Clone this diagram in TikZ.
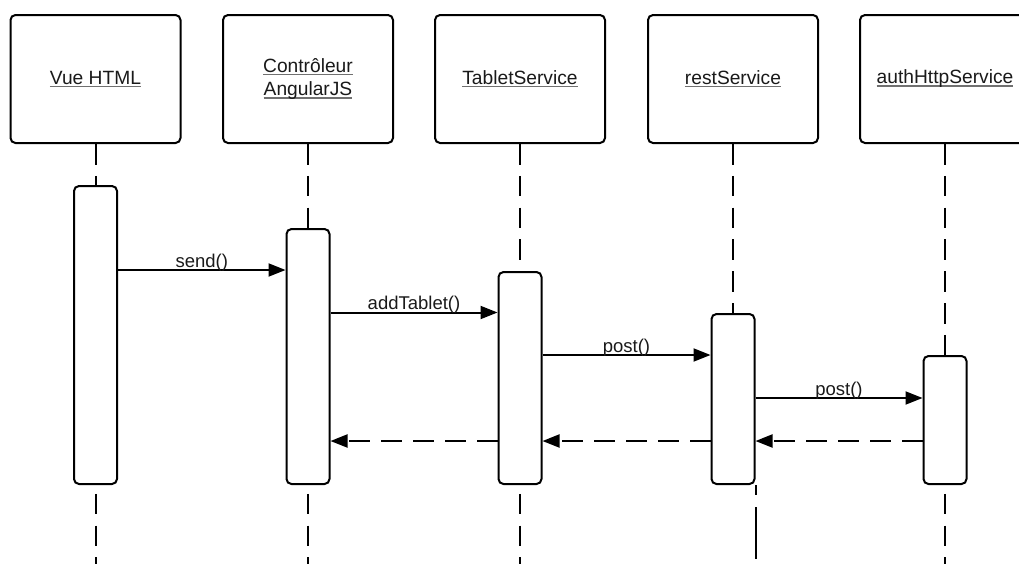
\documentclass[tikz,border=0pt]{standalone}
\usepackage{fontspec}
\setmainfont{Liberation Sans}
\usetikzlibrary{arrows.meta}
\pgfdeclarelayer{background}
\pgfsetlayers{background,main}
\definecolor{ulgray}{HTML}{707070}
\definecolor{txt}{HTML}{1A1A1A}
\newcommand\myul[1]{\setbox0\hbox{#1}\rlap{\color{ulgray}\rule[-2.8pt]{\wd0}{1.5pt}}\box0}
\begin{document}
\begin{tikzpicture}[x=1pt,y=-1pt,
  every node/.style={font=\fontsize{18.5}{23.5}\selectfont, text=txt},
  head/.style={draw, line width=2pt, rounded corners=5pt, minimum width=170pt, minimum height=128pt, align=center, inner sep=0pt, fill=white, font=\fontsize{19.2}{23.5}\selectfont},
  act/.style={draw, line width=2pt, rounded corners=5pt, minimum width=43pt, fill=white, inner sep=0pt, anchor=north},
  life/.style={line width=2pt, dash pattern=on 20.5pt off 11.3pt},
  msg/.style={line width=2pt, -{Triangle[length=17pt,width=13pt]}},
  ret/.style={msg, dash pattern=on 21pt off 11pt},
  lab/.style={anchor=base, inner sep=0pt, yshift=3pt}]
\useasboundingbox (0,0) rectangle (1019,563);
\begin{pgfonlayer}{background}
\fill[white] (0,0) rectangle (1019,563);
\end{pgfonlayer}
\clip (0,0) rectangle (1019,563);

\coordinate (bottom) at (0,570);

% header boxes
\node[head] (h1) at (95.5,79) {\myul{Vue HTML}};
\node[head] (h2) at (308,79) {\myul{Contrôleur}\\\myul{AngularJS}};
\node[head] (h3) at (520,79) {\myul{TabletService}};
\node[head] (h4) at (733,79) {\myul{restService}};
\node[head] (h5) at (945,79) {\myul{authHttpService}};

% activation boxes
\node[act, minimum height=298pt] (a1) at (95.5,185) {};
\node[act, minimum height=255pt] (a2) at (308,228) {};
\node[act, minimum height=212pt] (a3) at (520,271) {};
\node[act, minimum height=170pt] (a4) at (733,313) {};
\node[act, minimum height=128pt] (a5) at (945,355) {};

% lifelines
\begin{pgfonlayer}{background}
\draw[life] (h1.south) -- (h1.south |- bottom);
\draw[life] (h2.south) -- (h2.south |- bottom);
\draw[life] (h3.south) -- (h3.south |- bottom);
\draw[life] (h4.south) -- (a4.north);
\draw[life] (h5.south) -- (h5.south |- bottom);
\end{pgfonlayer}
\draw[line width=2pt, dash pattern=on 10pt off 12pt on 52pt off 40pt] (a4.south east) -- (a4.south east |- bottom);

% messages
\coordinate (m1) at (0,270);
\coordinate (m2) at (0,312.5);
\coordinate (m3) at (0,355);
\coordinate (m4) at (0,398);
\coordinate (r) at (0,441);
\draw[msg] (a1.east |- m1) -- node[lab] (l1) {send()} (a2.west |- m1);
\draw[msg] (a2.east |- m2) -- node[lab] (l2) {addTablet()} (a3.west |- m2);
\draw[msg] (a3.east |- m3) -- node[lab] (l3) {post()} (a4.west |- m3);
\draw[msg] (a4.east |- m4) -- node[lab] (l4) {post()} (a5.west |- m4);

% returns
\draw[ret] (a3.west |- r) -- (a2.east |- r);
\draw[ret] (a4.west |- r) -- (a3.east |- r);
\draw[ret] (a5.west |- r) -- (a4.east |- r);
\end{tikzpicture}
\end{document}
